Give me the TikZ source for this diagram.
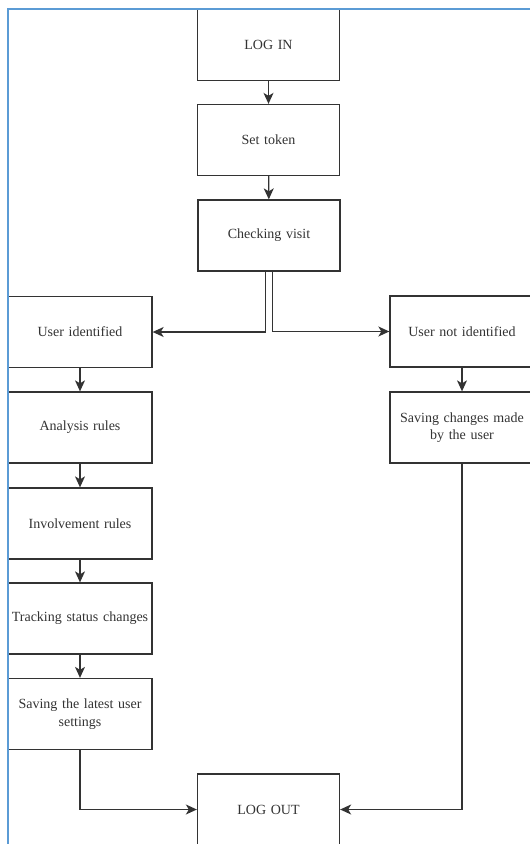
\documentclass[tikz,border=0pt]{standalone}
\usepackage{fontspec}
\setmainfont{Liberation Serif}
\usetikzlibrary{arrows.meta,calc}
\definecolor{framecol}{RGB}{91,155,213}
\definecolor{inkcol}{RGB}{51,51,51}
\begin{document}
\begin{tikzpicture}[x=1pt,y=-1pt,
  box/.style={draw=inkcol,line width=1.3pt,fill=white,minimum width=142pt,minimum height=71pt,
    inner sep=2pt,align=center,text=inkcol,font=\fontsize{14}{17.5}\selectfont,text width=138pt},
  wide/.style={minimum width=144pt,text width=140pt},
  flow/.style={draw=inkcol,line width=1.3pt,-{Stealth[length=11pt,width=10pt,inset=3pt]}}]
\useasboundingbox (0,0) rectangle (530,844);
\begin{scope}
\clip (0,0) rectangle (530,844);
% main column
\node[box] (login)  at (268.5,45)    {LOG IN};
\node[box] (token)  at (268.5,140)   {Set token};
\node[box] (check)  at (269,235.5)   {Checking visit};
% identified branch
\node[box,wide] (uid)   at (80,332)    {User identified};
\node[box,wide] (anal)  at (80,427.5)  {Analysis rules};
\node[box,wide] (inv)   at (80,523.5)  {Involvement rules};
\node[box,wide] (track) at (80,618.5)  {Tracking status changes};
\node[box,wide] (save)  at (80,714)    {Saving the latest user\\settings};
% not identified branch
\node[box,wide] (unid)   at (462,331.5) {User not identified};
\node[box,wide] (savech) at (462,427.5) {Saving changes made\\by the user};
% end
\node[box] (logout) at (268.5,809.5) {LOG OUT};
% connectors
\draw[flow] (login) -- (token);
\draw[flow] (token) -- (check);
\draw[flow] ($(check.south)+(-3.5,0)$) |- (uid.east);
\draw[flow] ($(check.south)+(3.5,0)$) |- (unid.west);
\draw[flow] (uid) -- (anal);
\draw[flow] (anal) -- (inv);
\draw[flow] (inv) -- (track);
\draw[flow] (track) -- (save);
\draw[flow] (unid) -- (savech);
\draw[flow] (save.south) |- (logout.west);
\draw[flow] (savech.south) |- (logout.east);
% page frame
\draw[framecol,line width=1.3pt] (8,844) -- (8,9) -- (530,9);
\end{scope}
\end{tikzpicture}
\end{document}
